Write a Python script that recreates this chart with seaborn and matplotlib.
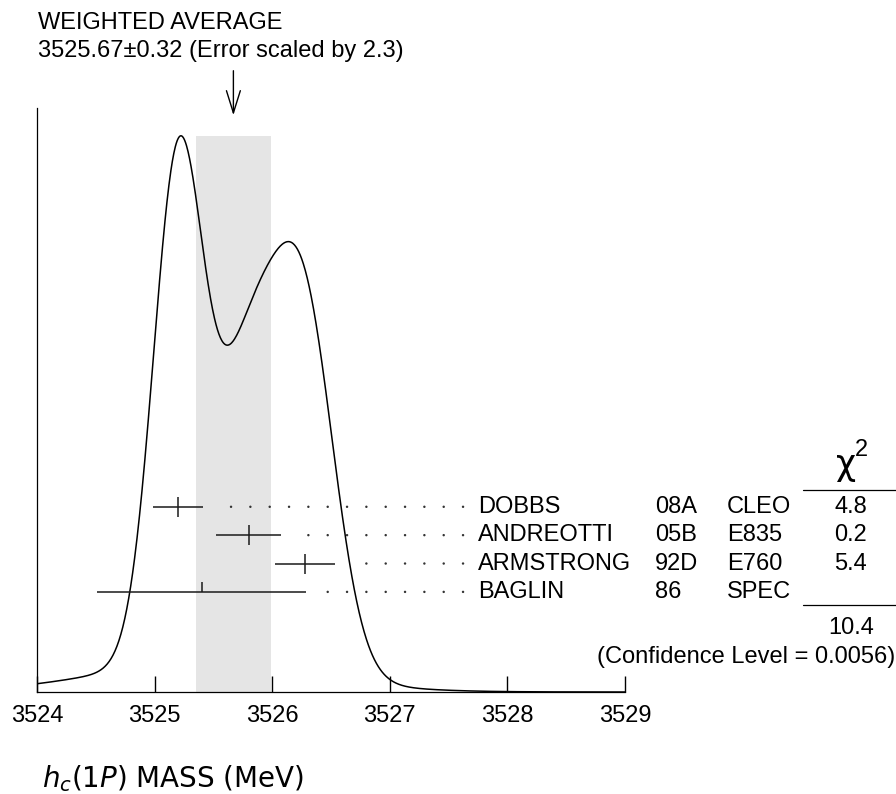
import numpy as np
import pandas as pd
import matplotlib
matplotlib.use("Agg")
import matplotlib.pyplot as plt
import seaborn as sns


names = ["DOBBS", "ANDREOTTI", "ARMSTRONG", "BAGLIN"]
years = ["08A", "05B", "92D", "86"]
expts = ["CLEO", "E835", "E760", "SPEC"]
values = [3525.20, 3525.80, 3526.28, 3525.40]
errors = [0.213, 0.279, 0.258, 0.89]
chi2 = ["4.8", "0.2", "5.4", ""]
used = [True, True, True, False]

avg_value = 3525.67
avg_error = 0.32
scale_factor = 2.3
chi2_total = "10.4"
conf_level = "0.0056"

x_ticks = [3524, 3525, 3526, 3527, 3528, 3529]


def ideogram(x, vals, errs):
    # each measurement is a gaussian with area ~ 1/error
    y = np.zeros_like(x)
    for v, e in zip(vals, errs):
        y += (1.0 / e**2) * np.exp(-0.5 * ((x - v) / e) ** 2)
    return y / y.max()


sns.set_style("white")
plt.rcParams["font.family"] = ["Liberation Sans", "DejaVu Sans"]
plt.rcParams["mathtext.fontset"] = "dejavusans"
plt.rcParams["text.color"] = "black"
plt.rcParams["xtick.color"] = "black"
plt.rcParams["xtick.labelcolor"] = "black"

fig = plt.figure(figsize=(8.96, 7.94), dpi=100)
ax = fig.add_axes([37 / 896, 102 / 794, 588 / 896, 584 / 794])

grid = np.linspace(3524, 3529, 1200)
curve = pd.DataFrame({"mass": grid, "ideogram": ideogram(grid, values, errors)})

# weighted average band
lo, hi = avg_value - avg_error, avg_value + avg_error
ax.fill_between([lo, hi], 0, 1.0, color="#e5e5e5", lw=0, zorder=0)

sns.lineplot(data=curve, x="mass", y="ideogram", ax=ax, color="black",
             lw=1.1, errorbar=None, zorder=3)

# rows of measurements
row_y = [0.333, 0.282, 0.231, 0.180]
dot_grid = 3525.65 + 0.1644 * np.arange(13)
for i in range(len(names)):
    y = row_y[i]
    v, e = values[i], errors[i]
    ax.hlines(y, v - e, v + e, color="#1a1a1a", lw=1.1, zorder=4)
    if used[i]:
        ax.vlines(v, y - 0.018, y + 0.018, color="#1a1a1a", lw=1.1, zorder=4)
    else:
        ax.vlines(v, y, y + 0.018, color="#1a1a1a", lw=1.1, zorder=4)
    dots = dot_grid[dot_grid > v + e + 0.153]
    sns.scatterplot(x=dots, y=np.full(len(dots), y), ax=ax, s=3,
                    color="#333333", edgecolor="none", zorder=4)
    ax.text(3527.75, y, names[i], fontsize=17, va="center", ha="left")
    ax.text(3529.255, y, years[i], fontsize=17, va="center", ha="left")
    ax.text(3529.867, y, expts[i], fontsize=17, va="center", ha="left")
    ax.text(3530.92, y, chi2[i], fontsize=17, va="center", ha="center")

# chi2 column
ax.text(3530.883, 0.390, "\u03c7", fontsize=25, va="baseline", ha="center",
        family="DejaVu Sans")
ax.text(3531.01, 0.425, "2", fontsize=17, va="baseline", ha="center")
ax.plot([3530.514, 3531.305], [0.363, 0.363], color="black", lw=0.9,
        clip_on=False)
ax.plot([3530.514, 3531.305], [0.156, 0.156], color="black", lw=0.9,
        clip_on=False)
ax.text(3530.92, 0.115, chi2_total, fontsize=17, va="center", ha="center")
ax.text(3531.296, 0.063, f"(Confidence Level = {conf_level})", fontsize=17,
        va="center", ha="right")

# arrow and header
ax.annotate("", xy=(avg_value, 1.032), xytext=(avg_value, 1.122),
            arrowprops=dict(arrowstyle="->,head_length=0.8,head_width=0.25",
                            lw=1.0, color="black", mutation_scale=20),
            annotation_clip=False)
fig.text(38 / 896, 1 - 23 / 794, "WEIGHTED AVERAGE", fontsize=17, va="center")
fig.text(38 / 896, 1 - 51 / 794,
         f"{avg_value:.2f}\u00b1{avg_error:.2f} (Error scaled by {scale_factor})",
         fontsize=17, va="center")

ax.set_xlim(3524, 3529)
ax.set_ylim(0, 1.05)
ax.set_xticks(x_ticks)
ax.set_xticklabels([str(t) for t in x_ticks])
ax.set_yticks([])
ax.set_xlabel("")
ax.set_ylabel("")
ax.tick_params(axis="x", direction="in", length=11.5, width=1.0, pad=9,
               labelsize=17, color="black", labelcolor="black", bottom=True)
for side in ["top", "right"]:
    ax.spines[side].set_visible(False)
for side in ["left", "bottom"]:
    ax.spines[side].set_color("black")
    ax.spines[side].set_linewidth(0.9)
ax.patch.set_alpha(0)

fig.text(42 / 896, 1 - 779 / 794, r"$h_c(1P)$ MASS (MeV)", fontsize=20,
         va="center", family="DejaVu Sans")

fig.savefig("out.png", dpi=100)
